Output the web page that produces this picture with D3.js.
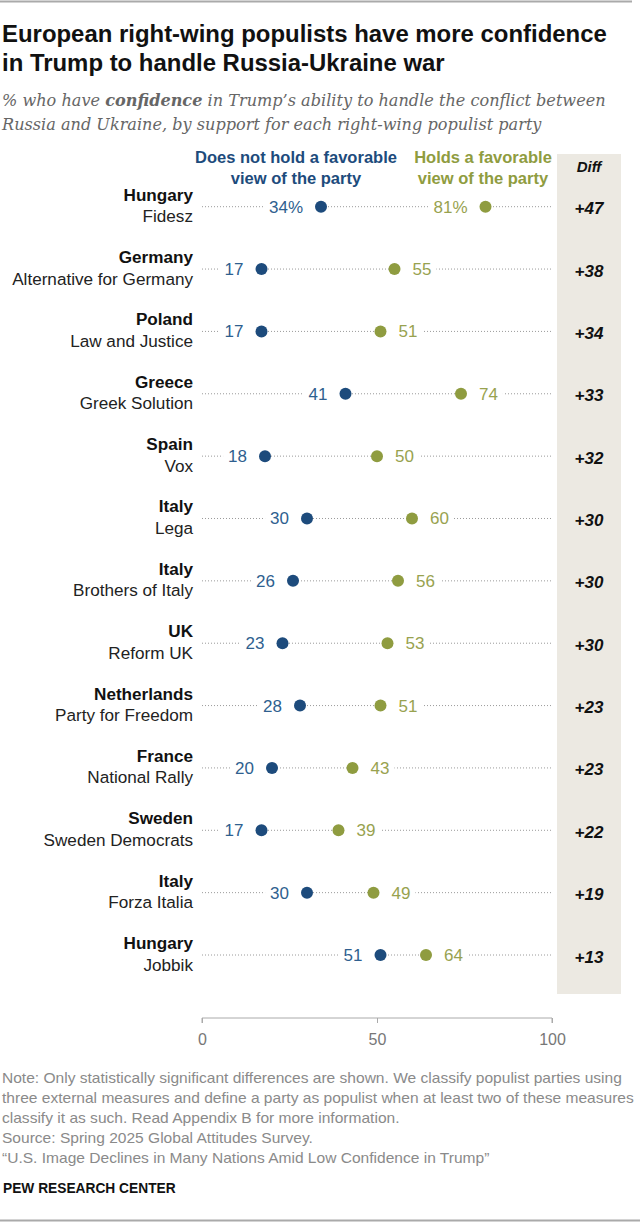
<!DOCTYPE html>
<html><head><meta charset="utf-8">
<script src="https://cdn.jsdelivr.net/npm/d3@7"></script>
<style>
body{margin:0;background:#fff;}
svg{display:block;}
</style></head><body>
<svg id="chart" width="640" height="1225"></svg>
<script>
// ---------- data ----------
const countries = ["Hungary","Germany","Poland","Greece","Spain","Italy","Italy","UK","Netherlands","France","Sweden","Italy","Hungary"];
const parties = ["Fidesz","Alternative for Germany","Law and Justice","Greek Solution","Vox","Lega","Brothers of Italy","Reform UK","Party for Freedom","National Rally","Sweden Democrats","Forza Italia","Jobbik"];
const notFavorable = [34,17,17,41,18,30,26,23,28,20,17,30,51];
const favorable = [81,55,51,74,50,60,56,53,51,43,39,49,64];
const diffs = ["+47","+38","+34","+33","+32","+30","+30","+30","+23","+23","+22","+19","+13"];
const axisTicks = [0,50,100];
const legendNotFav = ["Does not hold a favorable","view of the party"];
const legendFav = ["Holds a favorable","view of the party"];
const titleLines = ["European right-wing populists have more confidence","in Trump to handle Russia-Ukraine war"];
const noteLines = [
  "Note: Only statistically significant differences are shown. We classify populist parties using",
  "three external measures and define a party as populist when at least two of these measures",
  "classify it as such. Read Appendix B for more information.",
  "Source: Spring 2025 Global Attitudes Survey.",
  "\u201CU.S. Image Declines in Many Nations Amid Low Confidence in Trump\u201D"
];

// ---------- style ----------
const SANS = "'Liberation Sans', Arial, sans-serif";
const SERIF = "'DejaVu Serif', Georgia, serif";
const BLUE_DOT = "#1d4b7c", BLUE_TXT = "#2f5f8f";
const GREEN_DOT = "#8f9c40", GREEN_TXT = "#98a24f";

const svg = d3.select("#chart");

function fitSize(sel, target){
  const w = sel.node().getBBox().width;
  const fs = parseFloat(sel.attr("font-size"));
  return fs * target / w;
}

// top & bottom rules
svg.append("line").attr("x1",0).attr("x2",632).attr("y1",1.5).attr("y2",1.5)
  .attr("stroke","#aaa").attr("stroke-width",2);
svg.append("line").attr("x1",0).attr("x2",640).attr("y1",1220.5).attr("y2",1220.5)
  .attr("stroke","#aaa").attr("stroke-width",2);

// title
const titleBase = [42,71];
const tl = titleLines.map((t,i)=> svg.append("text").attr("x",2).attr("y",titleBase[i])
  .attr("font-family",SANS).attr("font-weight","bold").attr("font-size",20)
  .attr("fill","#111").text(t));
const tfs = fitSize(tl[0],605);
tl.forEach(s=>s.attr("font-size",tfs));

// subtitle
const sub1 = svg.append("text").attr("x",2).attr("y",106).attr("font-family",SERIF)
  .attr("font-style","italic").attr("font-size",16).attr("fill","#666");
sub1.append("tspan").text("% who have ");
sub1.append("tspan").attr("font-weight","bold").text("confidence");
sub1.append("tspan").text(" in Trump\u2019s ability to handle the conflict between");
const sub2 = svg.append("text").attr("x",2).attr("y",130).attr("font-family",SERIF)
  .attr("font-style","italic").attr("font-size",16).attr("fill","#666")
  .text("Russia and Ukraine, by support for each right-wing populist party");
const sfs = fitSize(sub1,604);
sub1.attr("font-size",sfs); sub2.attr("font-size",sfs);

// scales
const x = d3.scaleLinear().domain([0,100]).range([202,552]);
const y = d3.scalePoint().domain(d3.range(countries.length)).range([206.7,955]);

// diff column background
svg.append("rect").attr("x",557).attr("y",154).attr("width",64).attr("height",840).attr("fill","#ece9e2");
svg.append("text").attr("x",589).attr("y",172).attr("text-anchor","middle")
  .attr("font-family",SANS).attr("font-weight","bold").attr("font-style","italic")
  .attr("font-size",15).attr("fill","#111").text("Diff");

// legend
const legBase = [163,184];
const lb = legendNotFav.map((t,i)=> svg.append("text").attr("x",296).attr("y",legBase[i])
  .attr("text-anchor","middle").attr("font-family",SANS).attr("font-weight","bold")
  .attr("font-size",15).attr("fill",BLUE_DOT).text(t));
const lfs = fitSize(lb[0],202);
lb.forEach(s=>s.attr("font-size",lfs));
legendFav.forEach((t,i)=> svg.append("text").attr("x",483).attr("y",legBase[i])
  .attr("text-anchor","middle").attr("font-family",SANS).attr("font-weight","bold")
  .attr("font-size",lfs).attr("fill",GREEN_DOT).text(t));

// row labels
const rowG = svg.append("g");
const probe = rowG.append("text").attr("font-family",SANS).attr("font-size",16).text(parties[1]);
const rfs = fitSize(probe,181);
probe.remove();

countries.forEach((c,i)=>{
  const cy = y(i);
  rowG.append("text").attr("x",193).attr("y",cy-6).attr("text-anchor","end")
    .attr("font-family",SANS).attr("font-weight","bold").attr("font-size",rfs)
    .attr("fill","#111").text(c);
  rowG.append("text").attr("x",193).attr("y",cy+15.5).attr("text-anchor","end")
    .attr("font-family",SANS).attr("font-size",rfs).attr("fill","#222").text(parties[i]);
});

// dot rows
const plot = svg.append("g");
countries.forEach((c,i)=>{
  const cy = y(i);
  const g = plot.append("g");
  g.append("line").attr("x1",x(0)).attr("x2",x(100)).attr("y1",cy).attr("y2",cy)
    .attr("stroke","#9a9a9a").attr("stroke-width",1).attr("stroke-dasharray","1 2");
  const bgLayer = g.append("g");
  const pct = i===0 ? "%" : "";
  const items = [
    {v:notFavorable[i], side:-1, dot:BLUE_DOT, txt:BLUE_TXT},
    {v:favorable[i], side: i===0 ? -1 : 1, dot:GREEN_DOT, txt:GREEN_TXT}
  ];
  items.forEach(it=>{
    const cx = x(it.v);
    const t = g.append("text").attr("x", cx + it.side*18).attr("y",cy+6)
      .attr("text-anchor", it.side<0 ? "end" : "start")
      .attr("font-family",SANS).attr("font-size",17).attr("fill",it.txt)
      .text(it.v + pct);
    const bb = t.node().getBBox();
    const x0 = it.side<0 ? bb.x-5 : cx;
    const x1 = it.side<0 ? cx : bb.x+bb.width+5;
    bgLayer.append("rect").attr("x",x0).attr("y",cy-4).attr("width",x1-x0).attr("height",8).attr("fill","#fff");
    g.append("circle").attr("cx",cx).attr("cy",cy).attr("r",6).attr("fill",it.dot);
  });
  svg.append("text").attr("x",589).attr("y",cy+7.5).attr("text-anchor","middle")
    .attr("font-family",SANS).attr("font-weight","bold").attr("font-style","italic")
    .attr("font-size",17).attr("fill","#111").text(diffs[i]);
});

// axis
const axisG = svg.append("g").attr("transform","translate(0,1018)")
  .call(d3.axisBottom(x).tickValues(axisTicks).tickSize(5).tickPadding(11).tickFormat(d3.format("d")));
axisG.select(".domain").attr("stroke","#aaa").attr("d", `M${x(0)},5V0H${x(100)}V5`);
axisG.selectAll(".tick line").attr("stroke","#aaa");
axisG.selectAll(".tick text").attr("font-family",SANS).attr("font-size",16).attr("fill","#777");

// notes
const nl = noteLines.map((t,i)=> svg.append("text").attr("x",2).attr("y",1083+i*20)
  .attr("font-family",SANS).attr("font-size",14).attr("fill","#8a8a8a").text(t));
const nfs = fitSize(nl[1],632);
nl.forEach(s=>s.attr("font-size",nfs));

const pew = svg.append("text").attr("x",3).attr("y",1193).attr("font-family",SANS)
  .attr("font-weight","bold").attr("font-size",15).attr("fill","#111").text("PEW RESEARCH CENTER");
pew.attr("font-size", fitSize(pew,173));
</script>
</body></html>
